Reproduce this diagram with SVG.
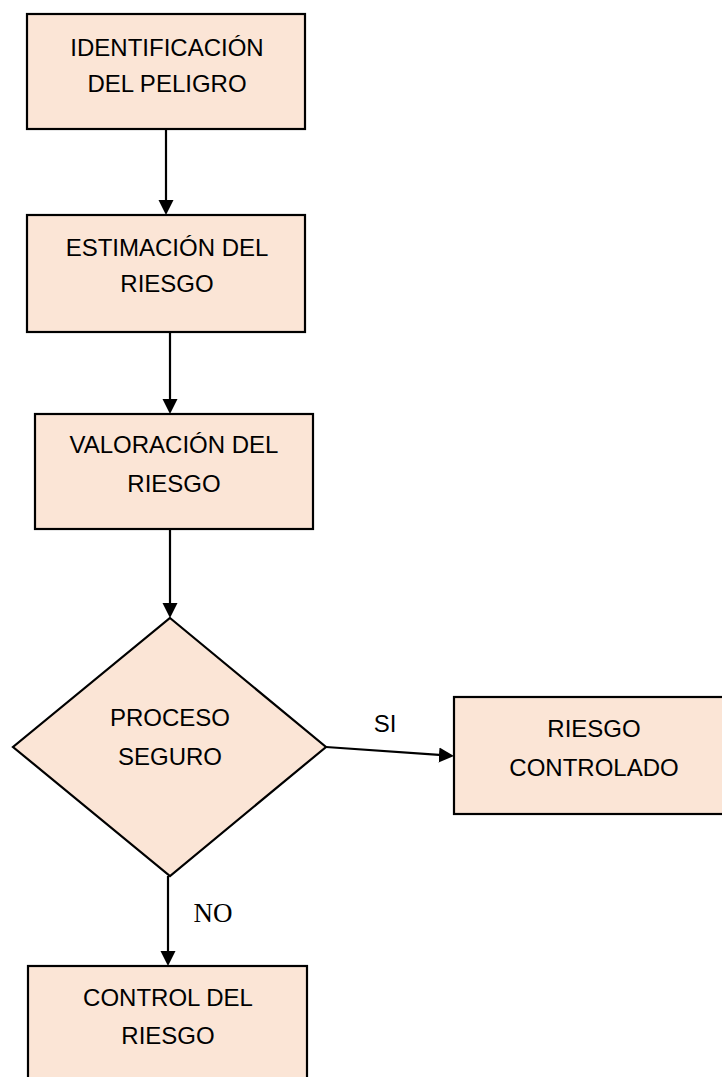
<svg xmlns="http://www.w3.org/2000/svg" width="722" height="1077" viewBox="0 0 722 1077">
<style>
.box{fill:#FBE5D6;stroke:#000;stroke-width:2.2}
.t{font-family:"Liberation Sans",Arial,sans-serif;font-size:24px;fill:#000;text-anchor:middle}
.s{font-family:"Liberation Serif","Times New Roman",serif;font-size:27px;fill:#000;text-anchor:middle}
.c{fill:none;stroke:#000;stroke-width:2.2}
</style>
<defs>
<marker id="ah" markerUnits="userSpaceOnUse" markerWidth="16" markerHeight="16" viewBox="0 -8 16 16" refX="0" refY="0" orient="auto">
<path d="M0,-7.5 L15,0 L0,7.5 z" fill="#000"/>
</marker>
</defs>
<rect width="722" height="1077" fill="#fff"/>
<g id="n1"><rect class="box" x="27" y="14" width="278" height="115"/><text class="t" x="167" y="56">IDENTIFICACIÓN</text><text class="t" x="167" y="92">DEL PELIGRO</text></g>
<g id="n2"><rect class="box" x="27" y="215" width="278" height="117"/><text class="t" x="167" y="256">ESTIMACIÓN DEL</text><text class="t" x="167" y="292">RIESGO</text></g>
<g id="n3"><rect class="box" x="35" y="414" width="278" height="115"/><text class="t" x="174" y="453">VALORACIÓN DEL</text><text class="t" x="174" y="492">RIESGO</text></g>
<g id="n4"><polygon class="box" points="170,618 326,747 170,876 13,747"/><text class="t" x="170" y="726">PROCESO</text><text class="t" x="170" y="765">SEGURO</text></g>
<g id="n5"><rect class="box" x="454" y="697" width="290" height="117"/><text class="t" x="594" y="737">RIESGO</text><text class="t" x="594" y="776">CONTROLADO</text></g>
<g id="n6"><rect class="box" x="28" y="966" width="279" height="130"/><text class="t" x="168" y="1006">CONTROL DEL</text><text class="t" x="168" y="1044">RIESGO</text></g>
<g id="connectors">
<path class="c" d="M166,129 V200" marker-end="url(#ah)"/>
<path class="c" d="M170,332 V399" marker-end="url(#ah)"/>
<path class="c" d="M170,529 V603" marker-end="url(#ah)"/>
<path class="c" d="M326,747 L439,754.9" marker-end="url(#ah)"/>
<path class="c" d="M168,876 V951" marker-end="url(#ah)"/>
<text class="t" x="385" y="732">SI</text>
<text class="s" x="213" y="922">NO</text>
</g>
</svg>
